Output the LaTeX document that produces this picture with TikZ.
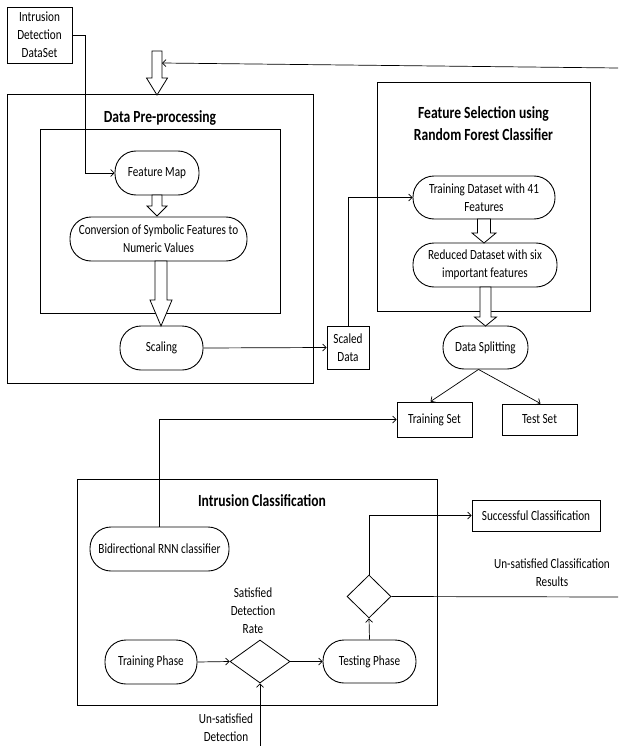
\documentclass[tikz,border=0pt]{standalone}
\usepackage{fontspec}
\setmainfont[FakeStretch=0.8]{Carlito}
\usetikzlibrary{shapes.geometric,arrows.meta}
\newcommand\harrow[6]{\draw[hollow] (#1-#5,#2) -- (#1-#5,#3) -- (#1-#6,#3) -- (#1,#4) -- (#1+#6,#3) -- (#1+#5,#3) -- (#1+#5,#2) -- cycle;}
\begin{document}
\begin{tikzpicture}[x=1pt,y=-1pt,
  every node/.style={font=\fontsize{14}{18}\selectfont, inner sep=1pt, align=center},
  frame/.style={draw, line width=1pt},
  sbox/.style={draw, line width=0.9pt},
  pill/.style={draw, line width=0.9pt, rounded corners=21pt},
  dia/.style={draw, diamond, line width=0.8pt, inner sep=0pt},
  ttl/.style={font=\fontsize{17}{22}\selectfont\bfseries},
  conn/.style={line width=0.7pt, -{Straight Barb[length=3.5pt,width=7pt]}},
  plain/.style={line width=0.7pt},
  hollow/.style={line width=0.8pt, fill=white}]
\useasboundingbox (0,0) rectangle (618,746);

% frames
\node[frame, minimum width=306, minimum height=288] (pre) at (160,239) {};
\node[frame, minimum width=240, minimum height=183] (prein) at (160,221.5) {};
\node[ttl] (pretitle) at (160,118) {Data Pre-processing};
\node[frame, minimum width=213, minimum height=228] (fs) at (483.5,197) {};
\node[ttl] (fstitle) at (483.5,124) {Feature Selection using\\Random Forest Classifier};
\node[frame, minimum width=360, minimum height=226] (ic) at (257,592) {};
\node[ttl] (ictitle) at (262,501) {Intrusion Classification};

% nodes
\node[sbox, minimum width=65, minimum height=56] (ids) at (39.5,35) {Intrusion\\Detection\\DataSet};
\node[pill, minimum width=84, minimum height=44] (fm) at (157,173) {Feature Map};
\node[pill, minimum width=177, minimum height=44] (conv) at (158.5,239) {Conversion of Symbolic Features to\\Numeric Values};
\node[pill, minimum width=83, minimum height=44] (scal) at (161.5,348) {Scaling};
\node[sbox, minimum width=42, minimum height=43] (sd) at (348,347.5) {Scaled\\Data};
\node[pill, minimum width=142, minimum height=43] (tds) at (484,197.5) {Training Dataset with 41\\Features};
\node[pill, minimum width=144, minimum height=44] (red) at (485,265) {Reduced Dataset with six\\important features};
\node[pill, minimum width=85, minimum height=43] (split) at (485.5,347.5) {Data Splitting};
\node[sbox, minimum width=75, minimum height=35] (trs) at (434.5,419.5) {Training Set};
\node[sbox, minimum width=75, minimum height=31] (tes) at (539.5,419.5) {Test Set};
\node[pill, minimum width=139, minimum height=44] (birnn) at (159.5,549) {Bidirectional RNN classifier};
\node[pill, minimum width=92, minimum height=44] (tp) at (151,662) {Training Phase};
\node[dia, minimum width=60, minimum height=43] (d1) at (260,661.5) {};
\node[pill, minimum width=93, minimum height=43] (tsp) at (369.5,661.5) {Testing Phase};
\node[dia, minimum width=44, minimum height=43] (d2) at (369,596.5) {};
\node[sbox, minimum width=128, minimum height=31] (succ) at (536,515.5) {Successful Classification};

% labels
\node (l1) at (253,610.5) {Satisfied\\Detection\\Rate};
\node (l2) at (552,573) {Un-satisfied Classification\\Results};
\node (l3) at (226,728) {Un-satisfied\\Detection};

% hollow arrows
\harrow{157}{51}{78}{95}{5}{10.5}
\harrow{157}{195}{206}{216}{5}{10}
\harrow{161}{261}{300}{326}{6}{11}
\harrow{484}{219}{233}{243}{6.5}{12}
\harrow{485.5}{287}{317}{326}{5.5}{11}

% connectors
\coordinate (c1) at (85,173);
\draw[conn] (ids.east) -| (c1) -- (fm.west);
\coordinate (rin) at (618,68);
\coordinate (hin) at (162,63);
\draw[conn] (rin) -- (hin);
\draw[conn] (scal.east) -- (sd.west);
\draw[conn] (sd.north) |- (tds.west);
\draw[conn] ([xshift=-7pt]split.south) -- ([xshift=-4pt]trs.north);
\draw[conn] ([xshift=-7pt]split.south) -- ([xshift=1pt]tes.north);
\draw[conn] (birnn.north) |- (trs.west);
\draw[conn] (tp.east) -- (d1.west);
\draw[conn] (d1.east) -- (tsp.west);
\draw[conn] (tsp.north) -- (d2.south);
\draw[conn] (d2.north) |- (succ.west);
\coordinate (rout) at (618,597);
\draw[plain] (d2.east) -- (rout);
\coordinate (bin) at (260,746);
\draw[conn] (bin) -- (d1.south);
\end{tikzpicture}
\end{document}
